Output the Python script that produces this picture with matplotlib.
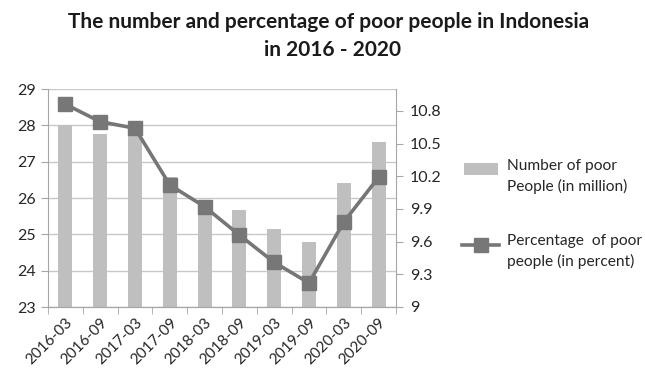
import matplotlib
matplotlib.use("Agg")
import matplotlib.pyplot as plt
from matplotlib.lines import Line2D
from matplotlib.patches import Rectangle

plt.rcParams['font.family'] = ['Lato', 'DejaVu Sans']

periods = ["2016-03", "2016-09", "2017-03", "2017-09", "2018-03",
           "2018-09", "2019-03", "2019-09", "2020-03", "2020-09"]
poor_million = [28.01, 27.76, 27.77, 26.58, 25.95, 25.67, 25.14, 24.79, 26.42, 27.55]
poor_percent = [10.86, 10.70, 10.64, 10.12, 9.92, 9.66, 9.41, 9.22, 9.78, 10.19]
left_ticks = [23, 24, 25, 26, 27, 28, 29]
right_ticks = [9, 9.3, 9.6, 9.9, 10.2, 10.5, 10.8]
legend_labels = ["Number of poor\nPeople (in million)", "Percentage  of poor\npeople (in percent)"]

W, H = 645, 370
fig = plt.figure(figsize=(W / 100, H / 100), dpi=100)
ax = fig.add_axes([48 / W, 1 - 307 / H, 348 / W, 218 / H])
ax2 = ax.twinx()

axis_col = "#a6a6a6"
txt_col = "#262626"
bar_col = "#bfbfbf"
line_col = "#767676"
x = list(range(len(periods)))

ax.bar(x, poor_million, width=0.4, color=bar_col, zorder=2)
ax.set_ylim(23, 29)
ax.set_yticks(left_ticks)
ax.set_xlim(-0.5, len(periods) - 0.5)
ax.yaxis.grid(True, color="#c8c8c8", linewidth=1.0, zorder=0)
ax.set_axisbelow(True)

ax2.plot(x, poor_percent, color=line_col, linewidth=2.6, marker="s",
         markersize=10.5, markerfacecolor="#777777", markeredgecolor="#777777", zorder=3)
ax2.set_ylim(9, 11)
ax2.set_yticks(right_ticks)
ax2.set_yticklabels([f"{v:g}" for v in right_ticks])

ax.set_xticks(x)
ax.set_xticklabels(periods, rotation=45, ha="right", rotation_mode="anchor")
ax.set_xticks([i + 0.5 for i in range(-1, len(periods))], minor=True)
ax.tick_params(axis="x", which="major", length=0, pad=6, labelsize=11, labelcolor=txt_col)
ax.tick_params(axis="x", which="minor", length=5, color=axis_col, direction="out")
ax.tick_params(axis="y", length=5, color=axis_col, labelsize=11.5, labelcolor=txt_col, pad=4)
ax2.tick_params(axis="y", length=5, color=axis_col, labelsize=11.5, labelcolor=txt_col, pad=5)

for a in (ax, ax2):
    a.spines["top"].set_visible(False)
    for s in ("left", "right", "bottom"):
        a.spines[s].set_color(axis_col)
ax2.spines["left"].set_visible(False)
ax.spines["right"].set_visible(False)

fig.text(329 / W, 1 - 22 / H, "The number and percentage of poor people in Indonesia",
         ha="center", va="center", fontsize=15, fontweight="bold", color="#1a1a1a")
fig.text(332 / W, 1 - 50 / H, "in 2016 - 2020",
         ha="center", va="center", fontsize=15, fontweight="bold", color="#1a1a1a")

# legend drawn manually (handles aligned to the first text line)
fig.patches.append(Rectangle((464 / W, 1 - 175 / H), 34 / W, 12 / H,
                             transform=fig.transFigure, facecolor=bar_col, edgecolor="none"))
fig.lines.append(Line2D([462 / W, 499 / W], [1 - 245 / H, 1 - 245 / H],
                        transform=fig.transFigure, color=line_col, linewidth=2.6))
fig.lines.append(Line2D([480.5 / W], [1 - 245 / H], transform=fig.transFigure,
                        marker="s", markersize=10, color="#777777", linestyle="none"))
fig.text(507 / W, 1 - 159 / H, legend_labels[0], ha="left", va="top",
         fontsize=11.2, color=txt_col, linespacing=1.5)
fig.text(507 / W, 1 - 234 / H, legend_labels[1], ha="left", va="top",
         fontsize=11.2, color=txt_col, linespacing=1.5)

fig.savefig("out.png", dpi=100)
